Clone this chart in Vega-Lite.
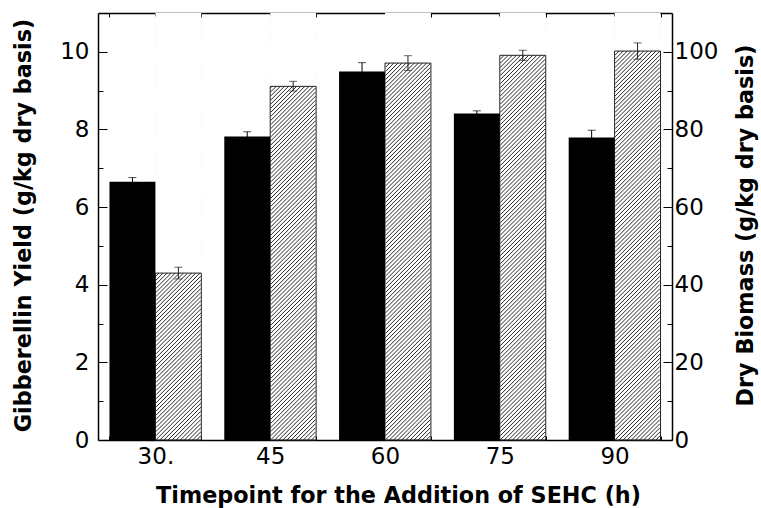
{
  "$schema": "https://vega.github.io/schema/vega-lite/v6.json",
  "width": 574,
  "height": 427,
  "autosize": "none",
  "padding": {"left": 98, "top": 13, "right": 89, "bottom": 68},
  "background": "white",
  "config": {
    "font": "DejaVu Sans",
    "view": {"stroke": null},
    "axis": {"domainColor": "black", "tickColor": "black", "labelColor": "black", "titleColor": "black", "grid": false, "zindex": 1, "labelFont": "DejaVu Sans", "titleFont": "DejaVu Sans"}
  },
  "data": {
    "values": [
      {"t": "30", "s": "gib", "v": 6.65, "lo": 6.54, "hi": 6.76},
      {"t": "45", "s": "gib", "v": 7.82, "lo": 7.70, "hi": 7.94},
      {"t": "60", "s": "gib", "v": 9.49, "lo": 9.26, "hi": 9.72},
      {"t": "75", "s": "gib", "v": 8.41, "lo": 8.34, "hi": 8.48},
      {"t": "90", "s": "gib", "v": 7.79, "lo": 7.60, "hi": 7.98},
      {"t": "30", "s": "bio", "v": 43.0, "lo": 41.5, "hi": 44.5},
      {"t": "45", "s": "bio", "v": 91.1, "lo": 89.9, "hi": 92.4},
      {"t": "60", "s": "bio", "v": 97.1, "lo": 95.2, "hi": 99.0},
      {"t": "75", "s": "bio", "v": 99.1, "lo": 97.8, "hi": 100.4},
      {"t": "90", "s": "bio", "v": 100.2, "lo": 98.1, "hi": 102.3}
    ]
  },
  "layer": [
    {
      "transform": [{"filter": "datum.s === 'bio'"}],
      "encoding": {
        "x": {"field": "t", "type": "nominal", "sort": null, "scale": {"paddingInner": 0.2, "paddingOuter": 0.1},
          "axis": {"orient": "top", "labels": false, "title": null, "tickBand": "extent", "tickSize": -4, "domainWidth": 1.5}},
        "xOffset": {"field": "s", "type": "nominal", "scale": {"domain": ["gib", "bio"], "paddingInner": 0, "paddingOuter": 0}}
      },
      "layer": [
        {
          "mark": {"type": "point", "shape": "M-23 46l46 -46m-46 41.8l46 -46m-46 41.8l46 -46m-46 41.8l46 -46m-46 41.8l46 -46m-46 41.8l46 -46m-46 41.8l46 -46m-46 41.8l46 -46m-46 41.8l46 -46m-46 41.8l46 -46m-46 41.8l46 -46m-46 41.8l46 -46m-46 41.8l46 -46m-46 41.8l46 -46m-46 41.8l46 -46m-46 41.8l46 -46m-46 41.8l46 -46m-46 41.8l46 -46m-46 41.8l46 -46m-46 41.8l46 -46m-46 41.8l46 -46m-46 41.8l46 -46m-46 41.8l46 -46m-46 41.8l46 -46m-46 41.8l46 -46m-46 41.8l46 -46m-46 41.8l46 -46m-46 41.8l46 -46m-46 41.8l46 -46m-46 41.8l46 -46m-46 41.8l46 -46m-46 41.8l46 -46m-46 41.8l46 -46m-46 41.8l46 -46m-46 41.8l46 -46m-46 41.8l46 -46m-46 41.8l46 -46m-46 41.8l46 -46m-46 41.8l46 -46m-46 41.8l46 -46m-46 41.8l46 -46m-46 41.8l46 -46m-46 41.8l46 -46m-46 41.8l46 -46m-46 41.8l46 -46m-46 41.8l46 -46m-46 41.8l46 -46m-46 41.8l46 -46m-46 41.8l46 -46m-46 41.8l46 -46m-46 41.8l46 -46m-46 41.8l46 -46m-46 41.8l46 -46m-46 41.8l46 -46m-46 41.8l46 -46m-46 41.8l46 -46m-46 41.8l46 -46m-46 41.8l46 -46m-46 41.8l46 -46m-46 41.8l46 -46m-46 41.8l46 -46m-46 41.8l46 -46m-46 41.8l46 -46m-46 41.8l46 -46m-46 41.8l46 -46m-46 41.8l46 -46m-46 41.8l46 -46m-46 41.8l46 -46m-46 41.8l46 -46m-46 41.8l46 -46m-46 41.8l46 -46m-46 41.8l46 -46m-46 41.8l46 -46m-46 41.8l46 -46m-46 41.8l46 -46m-46 41.8l46 -46m-46 41.8l46 -46m-46 41.8l46 -46m-46 41.8l46 -46m-46 41.8l46 -46m-46 41.8l46 -46m-46 41.8l46 -46m-46 41.8l46 -46m-46 41.8l46 -46m-46 41.8l46 -46m-46 41.8l46 -46m-46 41.8l46 -46m-46 41.8l46 -46m-46 41.8l46 -46m-46 41.8l46 -46m-46 41.8l46 -46m-46 41.8l46 -46m-46 41.8l46 -46m-46 41.8l46 -46m-46 41.8l46 -46m-46 41.8l46 -46m-46 41.8l46 -46m-46 41.8l46 -46m-46 41.8l46 -46m-46 41.8l46 -46m-46 41.8l46 -46m-46 41.8l46 -46m-46 41.8l46 -46m-46 41.8l46 -46m-46 41.8l46 -46m-46 41.8l46 -46m-46 41.8l46 -46m-46 41.8l46 -46m-46 41.8l46 -46m-46 41.8l46 -46m-46 41.8l46 -46m-46 41.8l46 -46m-46 41.8l46 -46m-46 41.8l46 -46m-46 41.8l46 -46m-46 41.8l46 -46m-46 41.8l46 -46m-46 41.8", "size": 3.8, "filled": false, "stroke": "black", "strokeWidth": 0.85, "opacity": 1, "clip": true},
          "encoding": {"y": {"datum": 0, "type": "quantitative", "scale": {"domain": [0, 110], "nice": false}}}
        },
        {
          "mark": {"type": "bar", "fill": "white", "stroke": null},
          "encoding": {
            "y": {"field": "v", "type": "quantitative", "scale": {"domain": [0, 110], "nice": false}},
            "y2": {"datum": 110}
          }
        },
        {
          "mark": {"type": "bar", "fill": null, "fillOpacity": 0, "stroke": "#222", "strokeWidth": 1},
          "encoding": {
            "y": {"field": "v", "type": "quantitative", "scale": {"domain": [0, 110], "nice": false},
              "axis": {"orient": "right", "values": [0, 10, 20, 30, 40, 50, 60, 70, 80, 90, 100],
                "labelExpr": "datum.value % 20 === 0 ? datum.label : ''",
                "tickSize": {"condition": {"test": "datum.value % 20 === 0", "value": -9}, "value": -5},
                "labelFontSize": 23, "labelPadding": 11, "domainWidth": 1.5,
                "title": "Dry Biomass (g/kg dry basis)", "titleFontSize": 22.3, "titleFontWeight": "bold",
                "titleAngle": 270, "titleBaseline": "middle", "titleX": 73, "titleY": 212}}
          }
        },
        {
          "mark": {"type": "rule", "color": "#222", "strokeWidth": 1},
          "encoding": {
            "y": {"field": "lo", "type": "quantitative", "scale": {"domain": [0, 110], "nice": false}},
            "y2": {"field": "hi"}
          }
        },
        {
          "mark": {"type": "tick", "color": "#222", "size": 8, "thickness": 1},
          "encoding": {"y": {"field": "hi", "type": "quantitative", "scale": {"domain": [0, 110], "nice": false}}}
        },
        {
          "mark": {"type": "tick", "color": "#222", "size": 8, "thickness": 1},
          "encoding": {"y": {"field": "lo", "type": "quantitative", "scale": {"domain": [0, 110], "nice": false}}}
        }
      ]
    },
    {
      "transform": [{"filter": "datum.s === 'gib'"}],
      "encoding": {
        "x": {"field": "t", "type": "nominal", "sort": null, "scale": {"paddingInner": 0.2, "paddingOuter": 0.1},
          "axis": {"orient": "bottom", "labelAngle": 0, "tickBand": "extent", "tickSize": -4, "domainWidth": 1.5,
            "labelFontSize": 23, "labelPadding": 9,
            "labelExpr": "datum.value === '30' ? '30.' : datum.label",
            "title": "Timepoint for the Addition of SEHC (h)", "titleFontSize": 22.3, "titleFontWeight": "bold",
            "titleX": 300, "titleY": 62, "titleBaseline": "alphabetic"}},
        "xOffset": {"field": "s", "type": "nominal", "scale": {"domain": ["gib", "bio"], "paddingInner": 0, "paddingOuter": 0}}
      },
      "layer": [
        {
          "mark": {"type": "bar", "fill": "black"},
          "encoding": {
            "y": {"field": "v", "type": "quantitative", "scale": {"domain": [0, 11], "nice": false},
              "axis": {"orient": "left", "values": [0, 1, 2, 3, 4, 5, 6, 7, 8, 9, 10],
                "labelExpr": "datum.value % 2 === 0 ? datum.label : ''",
                "tickSize": {"condition": {"test": "datum.value % 2 === 0", "value": -9}, "value": -5},
                "labelFontSize": 23, "labelPadding": 18, "domainWidth": 1.5,
                "title": "Gibberellin Yield (g/kg dry basis)", "titleFontSize": 22.3, "titleFontWeight": "bold",
                "titleAngle": 270, "titleBaseline": "middle", "titleX": -75, "titleY": 212}}
          }
        },
        {
          "mark": {"type": "rule", "color": "black", "strokeWidth": 1},
          "encoding": {
            "y": {"field": "lo", "type": "quantitative", "scale": {"domain": [0, 11], "nice": false}},
            "y2": {"field": "hi"}
          }
        },
        {
          "mark": {"type": "tick", "color": "black", "size": 8, "thickness": 1},
          "encoding": {"y": {"field": "hi", "type": "quantitative", "scale": {"domain": [0, 11], "nice": false}}}
        }
      ]
    },
    {
      "transform": [{"filter": "datum.s === 'gib'"}],
      "mark": {"type": "point", "opacity": 0},
      "encoding": {
        "x": {"field": "t", "type": "nominal", "sort": null, "scale": {"paddingInner": 0.2, "paddingOuter": 0.1},
          "axis": {"orient": "top", "labels": false, "title": null, "domain": false, "tickSize": -3}},
        "y": {"field": "v", "type": "quantitative", "scale": {"domain": [0, 11], "nice": false}, "axis": null}
      }
    }
  ],
  "resolve": {"scale": {"y": "independent"}, "axis": {"x": "independent"}}
}
